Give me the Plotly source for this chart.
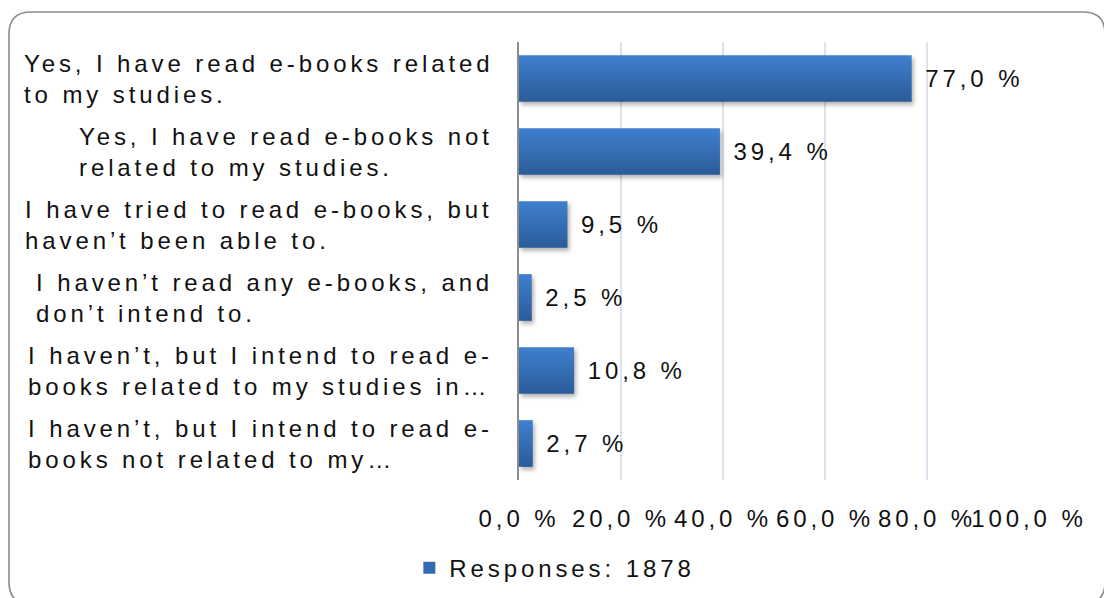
import plotly.graph_objects as go

categories = [
    "Yes, I have read e-books related<br>to my studies.",
    "Yes, I have read e-books not<br>related to my studies.",
    "I have tried to read e-books, but<br>haven’t been able to.",
    "I haven’t read any e-books, and<br>don’t intend to.",
    "I haven’t, but I intend to read e-<br>books related to my studies in…",
    "I haven’t, but I intend to read e-<br>books not related to my…",
]
values = [77.0, 39.4, 9.5, 2.5, 10.8, 2.7]
tick_values = [0, 20, 40, 60, 80, 100]
tick_labels = ["0,0 %", "20,0 %", "40,0 %", "60,0 %", "80,0 %", "100,0 %"]
series_name = "Responses: 1878"

LS = "letter-spacing:3.9px"
FONT = "Liberation Sans, Arial, sans-serif"
TXT = "#111111"


def spaced(s):
    return "<br>".join(f"<span style='{LS}'>{line}</span>" for line in s.split("<br>"))


cat_ids = [f"c{i}" for i in range(len(categories))]

fig = go.Figure()
fig.add_trace(go.Bar(
    x=values,
    y=cat_ids,
    orientation="h",
    name=spaced(series_name),
    marker=dict(color="#3469b0", line=dict(width=0)),
    texttemplate=f"<span style='{LS}'>\u00a0%{{x:.1f}} %</span>",
    textposition="outside",
    constraintext="none",
    cliponaxis=False,
    textfont=dict(family=FONT, size=24, color=TXT),
    width=0.64,
    hoverinfo="skip",
))

for cid, lab in zip(cat_ids, categories):
    fig.add_annotation(
        x=0, xref="paper", xanchor="right", xshift=-24,
        y=cid, yref="y", yanchor="middle",
        text=spaced(lab), align="left", showarrow=False,
        font=dict(family=FONT, size=24, color=TXT),
    )

# rounded border around the chart (paper coordinates)
def px2x(px):
    return (px - 519) / 510.0


def py2y(py):
    return (480 - py) / 438.0


L, T, R, B, r = 9, 12, 1105, 604, 22
path = (
    f"M {px2x(L + r)},{py2y(T)} L {px2x(R - r)},{py2y(T)} "
    f"Q {px2x(R)},{py2y(T)} {px2x(R)},{py2y(T + r)} "
    f"L {px2x(R)},{py2y(B - r)} Q {px2x(R)},{py2y(B)} {px2x(R - r)},{py2y(B)} "
    f"L {px2x(L + r)},{py2y(B)} Q {px2x(L)},{py2y(B)} {px2x(L)},{py2y(B - r)} "
    f"L {px2x(L)},{py2y(T + r)} Q {px2x(L)},{py2y(T)} {px2x(L + r)},{py2y(T)} Z"
)
fig.add_shape(type="path", xref="paper", yref="paper", path=path,
              line=dict(color="#8a8a8a", width=1.6), layer="above")

fig.update_layout(
    width=1104, height=598,
    margin=dict(l=519, r=75, t=42, b=118, autoexpand=False),
    paper_bgcolor="white", plot_bgcolor="white",
    separators=", ",
    font=dict(family=FONT, size=24, color=TXT),
    showlegend=True,
    hovermode=False,
    legend=dict(
        orientation="h", xref="paper", x=-0.215, xanchor="left",
        yref="container", y=0.05, yanchor="middle",
        font=dict(family=FONT, size=24, color=TXT),
        bgcolor="rgba(0,0,0,0)",
    ),
    xaxis=dict(
        range=[0, 100], tickvals=tick_values,
        ticktext=[f"<span style='{LS}'>{t}</span>" for t in tick_labels],
        tickangle=0, ticklabeloverflow="allow", automargin=False,
        showgrid=True, gridcolor="#dbe3ef", gridwidth=1.5,
        zeroline=False, showline=False, ticks="",
        ticklabelstandoff=22,
        tickfont=dict(family=FONT, size=24, color=TXT),
    ),
    yaxis=dict(
        categoryorder="array", categoryarray=cat_ids,
        autorange="reversed", showticklabels=False, ticks="",
        showgrid=False, zeroline=False, automargin=False,
        showline=True, linecolor="#8c8c8c", linewidth=2,
    ),
)

post = """
document.documentElement.style.margin = '0';
document.body.style.margin = '0';
document.body.style.overflow = 'hidden';
var gd = document.getElementById('{plot_id}');
function styleBars(){
  var svg = gd.querySelector('svg.main-svg');
  if(!svg) return;
  var ns = 'http://www.w3.org/2000/svg';
  var defs = svg.querySelector('defs');
  if(!defs){ defs = document.createElementNS(ns,'defs'); svg.insertBefore(defs, svg.firstChild); }
  if(!svg.querySelector('#barGrad')){
    var lg = document.createElementNS(ns,'linearGradient');
    lg.setAttribute('id','barGrad');
    lg.setAttribute('x1','0'); lg.setAttribute('y1','0');
    lg.setAttribute('x2','0'); lg.setAttribute('y2','1');
    [['0','#3f80cf'],['1','#2b5b98']].forEach(function(s){
      var st = document.createElementNS(ns,'stop');
      st.setAttribute('offset', s[0]); st.setAttribute('stop-color', s[1]);
      lg.appendChild(st);
    });
    defs.appendChild(lg);
  }
  gd.querySelectorAll('.barlayer .point path').forEach(function(p){
    p.style.fill = 'url(#barGrad)';
    p.style.filter = 'drop-shadow(2px 3px 2px rgba(0,0,0,0.3))';
  });
}
styleBars();
"""

fig.write_html("out.html", post_script=post, config={"displayModeBar": False})
